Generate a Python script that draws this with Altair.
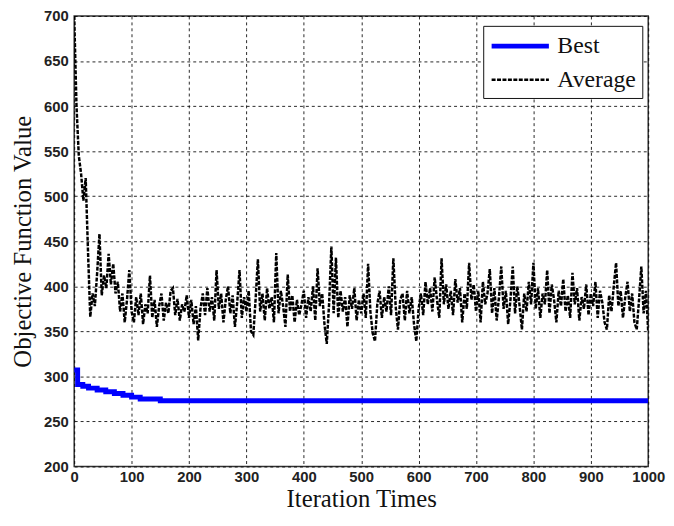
import altair as alt
import pandas as pd

# Best-so-far objective value (step changes)
best_iter = [0, 6, 15, 25, 40, 55, 70, 85, 100, 115, 150, 1000]
best_val = [307, 291, 289, 287, 285, 283, 281, 279, 277, 275, 273, 273]

# Population average objective value, read every 4 iterations
avg_iter = list(range(0, 1001, 4))
avg_val = [
    700, 600, 545, 525, 495, 520, 440, 366, 392, 378, 415, 458, 390, 412, 398, 436, 402, 425, 392, 405, 372, 392, 360, 385, 418,
    372, 360, 388, 368, 392, 358, 380, 370, 412, 365, 385, 355, 378, 392, 362, 382, 370, 395, 398, 368, 386, 362, 380, 372, 390,
    365, 385, 358, 378, 340, 375, 392, 368, 398, 372, 388, 362, 418, 375, 392, 360, 385, 400, 370, 390, 355, 382, 418, 365, 388,
    372, 395, 350, 346, 385, 430, 372, 392, 362, 398, 375, 388, 360, 437, 370, 395, 378, 355, 413, 372, 390, 360, 385, 368, 380,
    395, 365, 388, 372, 400, 362, 420, 378, 392, 358, 336, 380, 444, 370, 432, 365, 395, 372, 388, 355, 390, 375, 398, 362, 385,
    370, 392, 365, 425, 372, 348, 339, 380, 395, 365, 388, 372, 400, 368, 431, 378, 352, 385, 392, 362, 395, 370, 388, 358, 339,
    375, 392, 368, 405, 380, 398, 372, 410, 385, 365, 431, 380, 402, 375, 395, 368, 408, 382, 398, 360, 392, 375, 426, 385, 402,
    372, 395, 360, 405, 380, 392, 419, 370, 398, 362, 388, 422, 375, 395, 358, 385, 422, 370, 400, 378, 352, 392, 372, 405, 380,
    426, 375, 398, 365, 392, 380, 418, 370, 402, 385, 360, 395, 378, 408, 372, 390, 365, 415, 380, 398, 362, 388, 375, 402, 368,
    392, 378, 405, 365, 395, 382, 360, 352, 390, 372, 400, 426, 378, 395, 365, 388, 405, 372, 392, 360, 352, 385, 422, 370, 395,
    350,
]

series_names = ["Best", "Average"]
x_ticks = [0, 100, 200, 300, 400, 500, 600, 700, 800, 900, 1000]
y_ticks = [200, 250, 300, 350, 400, 450, 500, 550, 600, 650, 700]

best_df = pd.DataFrame({"iter": best_iter, "value": best_val, "series": "Best"})
avg_df = pd.DataFrame({"iter": avg_iter, "value": avg_val, "series": "Average"})

legend = alt.Legend(
    title=None,
    orient="none",
    legendX=414,
    legendY=10,
    symbolType="M-1,0H3.83",
    symbolSize=576,
    labelFont="Liberation Serif",
    labelFontSize=24,
    labelColor="#111",
    fillColor="white",
    strokeColor="#111",
    padding=6,
    rowPadding=8,
    labelOffset=40,
)

x_enc = alt.X(
    "iter:Q",
    scale=alt.Scale(domain=[0, 1000], nice=False),
    axis=alt.Axis(values=x_ticks, format="d", title="Iteration Times", labelPadding=3,
                  titleY=41, titleBaseline="alphabetic"),
)
y_enc = alt.Y(
    "value:Q",
    scale=alt.Scale(domain=[200, 700], nice=False),
    axis=alt.Axis(values=y_ticks, format="d", title="Objective Function Value", labelPadding=6,
                  titleX=-44, titleY=228, titleBaseline="alphabetic", titleAngle=270),
)
color_enc = alt.Color("series:N", scale=alt.Scale(domain=series_names, range=["#0000FF", "#000000"]), legend=legend)
dash_enc = alt.StrokeDash("series:N", scale=alt.Scale(domain=series_names, range=[[1, 0], [4, 1.5]]), legend=legend)
width_enc = alt.StrokeWidth("series:N", scale=alt.Scale(domain=series_names, range=[5, 2.5]), legend=legend)

avg_layer = alt.Chart(avg_df).mark_line(clip=True).encode(
    x=x_enc, y=y_enc, color=color_enc, strokeDash=dash_enc, strokeWidth=width_enc
)
best_layer = alt.Chart(best_df).mark_line(clip=True, interpolate="step-after").encode(
    x=x_enc, y=y_enc, color=color_enc, strokeDash=dash_enc, strokeWidth=width_enc
)

chart = (
    alt.layer(avg_layer, best_layer)
    .properties(
        width=581,
        height=456,
        padding={"left": 67, "top": 5, "right": 18, "bottom": 44},
        autosize=alt.AutoSizeParams(type="none"),
    )
    .configure_view(stroke="#333", strokeWidth=1.5)
    .configure_axis(
        grid=True,
        gridColor="#000",
        gridDash=[3, 3],
        gridWidth=1,
        gridOpacity=0.85,
        ticks=False,
        domain=False,
        labelFont="Liberation Sans",
        labelFontWeight="bold",
        labelFontSize=15,
        labelColor="#222",
        labelFlush=False,
        titleFont="Liberation Serif",
        titleFontSize=25,
        titleFontWeight="normal",
        titleColor="#111",
    )
)

chart.save("out.html", embed_options={"renderer": "svg", "actions": False})
